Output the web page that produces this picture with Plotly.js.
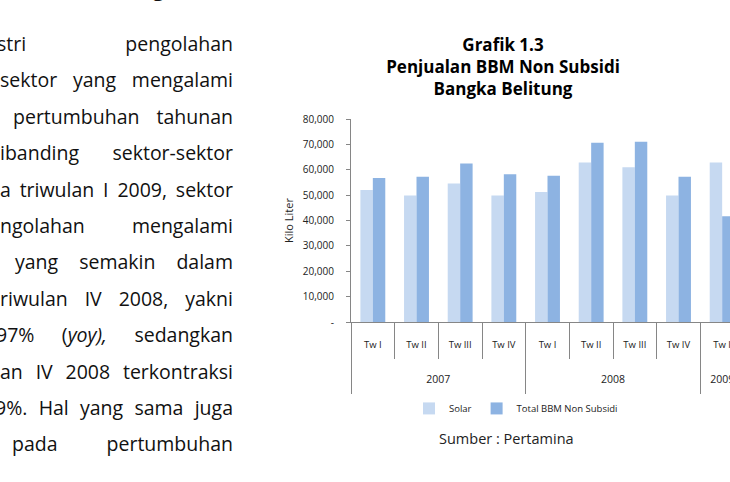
<!DOCTYPE html>
<html><head><meta charset="utf-8">
<script src="https://cdn.plot.ly/plotly-3.0.1.min.js"></script>
<style>
html,body{margin:0;padding:0;width:730px;height:482px;overflow:hidden;background:#fff;}
#chart{position:absolute;left:0;top:0;width:780px;height:482px;}
#text{position:absolute;left:0;top:0;width:240px;height:482px;font-family:"Open Sans",sans-serif;font-size:19.5px;color:#111;z-index:2;}
.ln{position:absolute;height:36px;line-height:36px;display:flex;justify-content:space-between;white-space:nowrap;}
.hd{position:absolute;right:7px;top:-24px;font-weight:bold;font-size:20px;line-height:26px;white-space:nowrap;font-family:"Open Sans",sans-serif;}
</style></head>
<body>
<div id="chart"></div>
<div id="text"></div>
<script>
// ---- data ----
const years = ["2007","2007","2007","2007","2008","2008","2008","2008","2009"];
const quarters = ["Tw I","Tw II","Tw III","Tw IV","Tw I","Tw II","Tw III","Tw IV","Tw I"];
const solar = [52000,49900,54600,49900,51200,62900,61000,49900,62900];
const totalBBM = [56700,57200,62500,58200,57600,70600,71000,57200,41700];
const seriesNames = ["Solar","Total BBM Non Subsidi"];
const yTickVals = [0,10000,20000,30000,40000,50000,60000,70000,80000];
const yTickText = ["-","10,000","20,000","30,000","40,000","50,000","60,000","70,000","80,000"];
const chartTitle = "<b>Grafik 1.3<br>Penjualan BBM Non Subsidi<br>Bangka Belitung</b>";
const yTitle = "Kilo Liter";
const sourceText = "Sumber : Pertamina";
const heading = "Sektor Industri Pengolahan";
const bodyLines = [
  ["stri","pengolahan"],
  ["sektor","yang","mengalami"],
  ["pertumbuhan","tahunan"],
  ["ibanding","sektor-sektor"],
  ["a","triwulan","I","2009,","sektor"],
  ["ngolahan","mengalami"],
  ["yang","semakin","dalam"],
  ["riwulan","IV","2008,","yakni"],
  ["97%","(<i>yoy),</i>","sedangkan"],
  ["an","IV","2008","terkontraksi"],
  ["9%.","Hal","yang","sama","juga"],
  ["pada","pertumbuhan"]
];
const lineLeft = [-3,0,13,0,0,0,15,0,-4,0,-5,12];

// ---- left text column ----
const tc = document.getElementById('text');
const hd = document.createElement('div'); hd.className='hd'; hd.textContent = heading; tc.appendChild(hd);
bodyLines.forEach((words,i)=>{
  const d = document.createElement('div'); d.className='ln';
  d.style.left = lineLeft[i]+'px'; d.style.width = (233-lineLeft[i])+'px';
  d.style.top = (26 + i*36.4)+'px';
  words.forEach(w=>{const s=document.createElement('span'); s.innerHTML=w; d.appendChild(s);});
  tc.appendChild(d);
});

// ---- chart ----
const cats = quarters.map((q,i)=>years[i]+' '+q);
// year groups: centre position and boundaries derived from the category list
const yearList = [...new Set(years)];
const yearCenters = yearList.map(y=>{const idx=years.map((v,i)=>v===y?i:null).filter(v=>v!==null);return (idx[0]+idx[idx.length-1])/2;});
const yearBounds = yearList.map(y=>years.indexOf(y)-0.5).concat([years.length-0.5]);

const traces = [
  {type:'bar', name:seriesNames[0], x:cats, y:solar, marker:{color:'#C6D9F1'}},
  {type:'bar', name:seriesNames[1], x:cats, y:totalBBM, marker:{color:'#8DB3E2'}},
  {type:'scatter', x:[0], y:[0], xaxis:'x2', mode:'none', showlegend:false, hoverinfo:'skip'}
];
const W=780,H=482;
const layout = {
  width:W, height:H,
  margin:{l:351, r:36, t:119, b:160, pad:0},
  paper_bgcolor:'rgba(0,0,0,0)', plot_bgcolor:'rgba(0,0,0,0)',
  font:{family:'"Open Sans", sans-serif', color:'#222', size:10},
  showlegend:true,
  title:{text:chartTitle, font:{size:17,color:'#000'}, xref:'container', x:503/W, xanchor:'center', yref:'container', y:1-51/H, yanchor:'top'},
  barmode:'group', bargap:0.43, bargroupgap:0,
  xaxis:{type:'category', range:[-0.5,8.5], tickmode:'array', tickvals:cats, ticktext:quarters,
    showline:true, linecolor:'#868686', linewidth:1,
    ticks:'outside', tickson:'boundaries', ticklen:36, tickcolor:'#868686', tickwidth:1,
    ticklabelstandoff:14,
    tickfont:{size:9.5,color:'#222'}, showgrid:false, zeroline:false},
  xaxis2:{type:'linear', overlaying:'x', anchor:'y', side:'bottom', range:[-0.5,8.5],
    tickmode:'array', tickvals:yearCenters, ticktext:yearList, ticks:'', ticklabelstandoff:49,
    tickfont:{size:10.5,color:'#222'}, showline:false, showgrid:false, zeroline:false,
    minor:{tickmode:'array', tickvals:yearBounds, ticks:'outside', ticklen:71, tickcolor:'#868686', tickwidth:1, showgrid:false}},
  yaxis:{range:[0,80000], tickmode:'array', tickvals:yTickVals, ticktext:yTickText,
    ticks:'outside', ticklen:4, tickcolor:'#868686', showline:true, linecolor:'#868686', linewidth:1,
    showgrid:false, zeroline:false, tickfont:{size:10,color:'#222'}, ticklabelstandoff:10,
    title:{text:yTitle, font:{size:11,color:'#222'}, standoff:6}},
  legend:{orientation:'h', xref:'paper', x:(516-351)/393, xanchor:'center', yref:'paper', y:(321.7-408)/202.7, yanchor:'middle', font:{size:9.5,color:'#222'}, itemwidth:30},
  annotations:[{text:sourceText, xref:'paper', yref:'paper', x:(506-351)/393, y:(321.7-438)/202.7, xanchor:'center', yanchor:'middle', showarrow:false, font:{size:14.5,color:'#222'}}]
};
Plotly.newPlot('chart', traces, layout, {displayModeBar:false, staticPlot:true});
</script>
</body></html>
